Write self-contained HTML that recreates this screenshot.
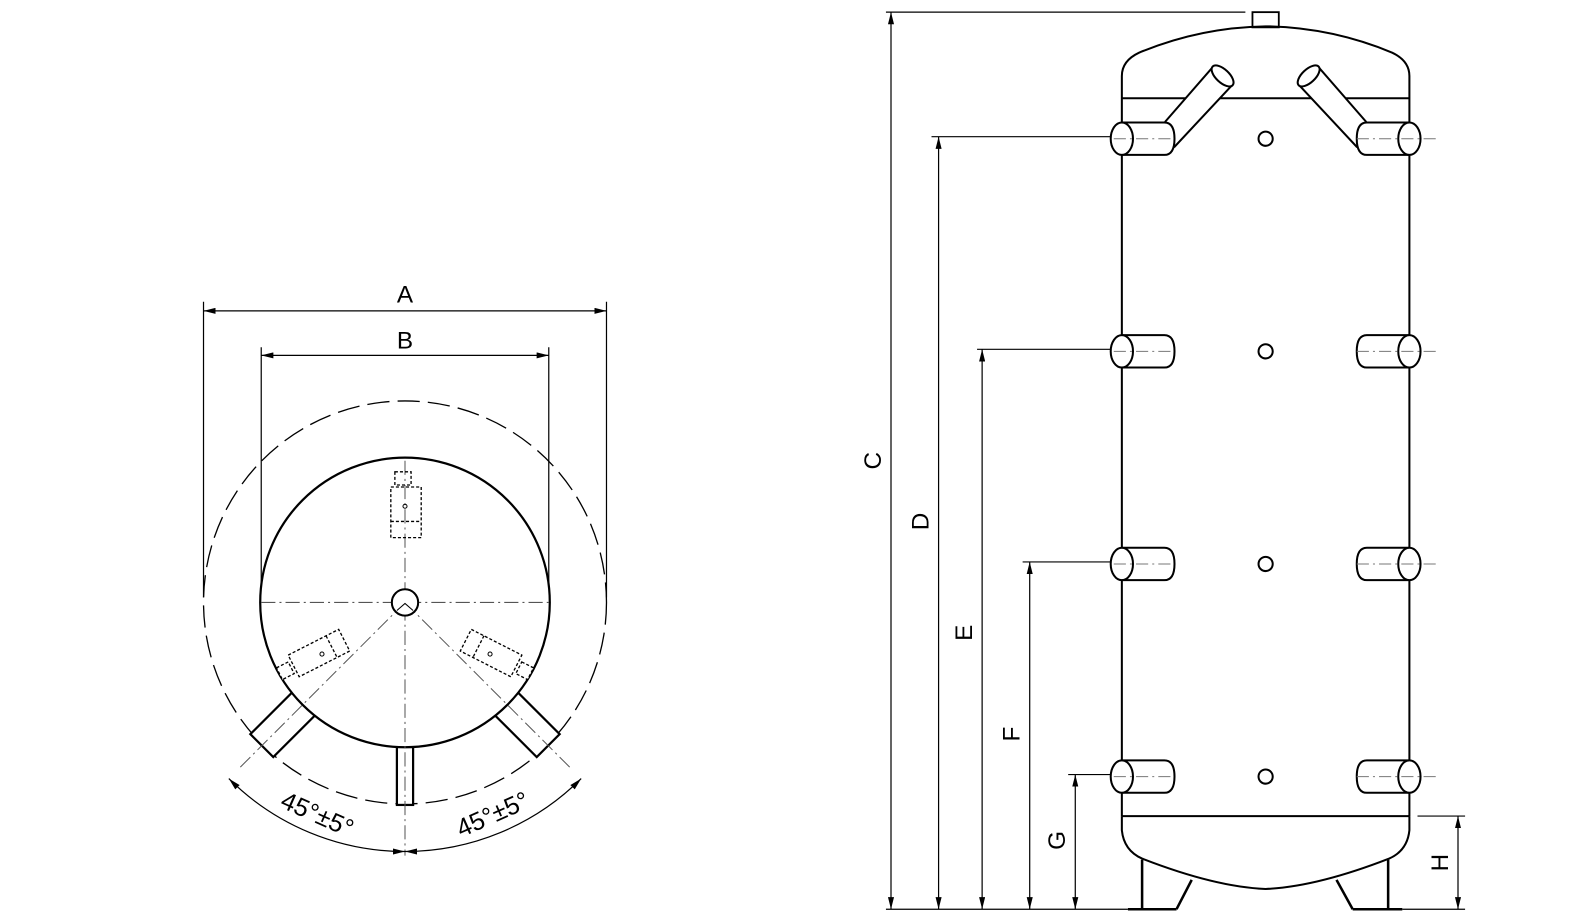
<!DOCTYPE html>
<html><head><meta charset="utf-8"><style>html,body{margin:0;padding:0;background:#fff}svg{display:block}</style></head>
<body>
<svg width="1587" height="921" viewBox="0 0 1587 921" xmlns="http://www.w3.org/2000/svg" font-family="Liberation Sans, sans-serif">
<defs>
<marker id="ar" viewBox="0 0 12 6" refX="12" refY="3" markerWidth="12" markerHeight="6" markerUnits="userSpaceOnUse" orient="auto-start-reverse"><path d="M0,0 L12,3 L0,6 Z" fill="#000"/></marker>
</defs>
<g transform="scale(1.0125)">
<!-- LEFT VIEW -->
<g stroke="#000" fill="none">
<circle cx="400" cy="595" r="199" stroke-width="1.3" stroke-dasharray="22 8"/>
<line x1="201" y1="298" x2="201" y2="590" stroke-width="1.2"/>
<line x1="599" y1="298" x2="599" y2="590" stroke-width="1.2"/>
<line x1="258" y1="343" x2="258" y2="592" stroke-width="1.2"/>
<line x1="542" y1="343" x2="542" y2="592" stroke-width="1.2"/>
<line x1="201" y1="307" x2="599" y2="307" stroke-width="1.2" marker-start="url(#ar)" marker-end="url(#ar)"/>
<line x1="258" y1="351" x2="542" y2="351" stroke-width="1.2" marker-start="url(#ar)" marker-end="url(#ar)"/>
<g fill="#fff" stroke-width="2.2">
<rect x="-16" y="138" width="32" height="62" transform="translate(400 595) rotate(45)"/>
<rect x="-16" y="138" width="32" height="62" transform="translate(400 595) rotate(-45)"/>
<rect x="392" y="735" width="16" height="60"/>
</g>
<circle cx="400" cy="595" r="143" stroke-width="2.2" fill="#fff"/>
<g stroke="#555" stroke-width="1" stroke-dasharray="14 4 2 4">
<line x1="258" y1="595" x2="542" y2="595"/>
<line x1="400" y1="455" x2="400" y2="845"/>
<line x1="400" y1="595" x2="235" y2="760"/>
<line x1="400" y1="595" x2="565" y2="760"/>
</g>
<circle cx="400" cy="595" r="13" stroke-width="2" fill="#fff"/>
<polyline points="392,603 400,596 408,603" stroke-width="1"/>
<g stroke-width="1.3" stroke-dasharray="3 2">
<rect x="390" y="466" width="16" height="13"/>
<rect x="386" y="481" width="30" height="50"/>
<line x1="386" y1="515" x2="416" y2="515"/>
</g>
<g stroke-width="1.3" stroke-dasharray="3 2" fill="#fff">
<g transform="translate(315 645) rotate(-27)"><rect x="-28" y="-12" width="56" height="24"/><line x1="14" y1="-12" x2="14" y2="12"/><rect x="-44" y="-6" width="13" height="13"/></g>
<g transform="translate(485 645) rotate(27)"><rect x="-28" y="-12" width="56" height="24"/><line x1="-14" y1="-12" x2="-14" y2="12"/><rect x="31" y="-6" width="13" height="13"/></g>
</g>
<circle cx="400" cy="500" r="2" stroke-width="1"/>
<circle cx="318" cy="646" r="2" stroke-width="1"/>
<circle cx="484" cy="646" r="2" stroke-width="1"/>
<path d="M226,769 A246,246 0 0 0 400,841" stroke-width="1.2" marker-start="url(#ar)" marker-end="url(#ar)"/>
<path d="M574,769 A246,246 0 0 1 400,841" stroke-width="1.2" marker-start="url(#ar)" marker-end="url(#ar)"/>
</g>
<text transform="translate(310 812) rotate(24)" font-size="25" text-anchor="middle">45°±5°</text>
<text transform="translate(490 812) rotate(-24)" font-size="25" text-anchor="middle">45°±5°</text>
<text x="400" y="299" font-size="24" text-anchor="middle">A</text>
<text x="400" y="344" font-size="24" text-anchor="middle">B</text>

<!-- RIGHT VIEW -->
<g stroke="#000" fill="none" stroke-width="2">
<rect x="1237" y="12" width="26" height="15" stroke-width="1.8"/>
<path d="M1108,806 L1108,75 Q1108,60 1125,52 Q1185,27 1250,26 Q1315,27 1375,52 Q1392,60 1392,75 L1392,806"/>
<line x1="1108" y1="97" x2="1392" y2="97"/>
<line x1="1108" y1="806" x2="1392" y2="806"/>
<path d="M1108,806 L1108,820 Q1110,840 1128,848 Q1200,876 1250,878 Q1300,876 1372,848 Q1390,840 1392,820 L1392,806"/>
<path d="M1128,849 L1128,898 M1114,898 L1162,898 M1177,869 L1162,898" stroke-width="2.5"/>
<path d="M1371,849 L1371,898 M1336,898 L1385,898 M1320,869 L1336,898" stroke-width="2.5"/>
<!-- angled pipes -->
<polygon points="1151,120 1198,66 1217,84 1160,145 1140,145" fill="#fff"/>
<polygon points="1349,120 1302,66 1283,84 1340,145 1360,145" fill="#fff"/>
<ellipse cx="1207.5" cy="75" rx="13.5" ry="6.5" transform="rotate(43 1207.5 75)" fill="#fff"/>
<ellipse cx="1292.5" cy="75" rx="13.5" ry="6.5" transform="rotate(-43 1292.5 75)" fill="#fff"/>
</g>
<g stroke="#000" stroke-width="2" fill="#fff">
<g id="nz">
<path d="M1108,121 L1150,121 Q1160,121 1160,137 Q1160,153 1150,153 L1108,153 Z"/>
<ellipse cx="1108" cy="137" rx="11" ry="16"/>
</g>
<use href="#nz" y="210"/><use href="#nz" y="420"/><use href="#nz" y="630"/>
<g id="nzr">
<path d="M1392,121 L1350,121 Q1340,121 1340,137 Q1340,153 1350,153 L1392,153 Z"/>
<ellipse cx="1392" cy="137" rx="11" ry="16"/>
</g>
<use href="#nzr" y="210"/><use href="#nzr" y="420"/><use href="#nzr" y="630"/>
<circle cx="1250" cy="137" r="7"/><circle cx="1250" cy="347" r="7"/><circle cx="1250" cy="557" r="7"/><circle cx="1250" cy="767" r="7"/>
</g>
<g stroke="#777" stroke-width="1" stroke-dasharray="12 4 2 4">
<line x1="1100" y1="137" x2="1160" y2="137"/><line x1="1100" y1="347" x2="1160" y2="347"/><line x1="1100" y1="557" x2="1160" y2="557"/><line x1="1100" y1="767" x2="1160" y2="767"/>
<line x1="1340" y1="137" x2="1420" y2="137"/><line x1="1340" y1="347" x2="1420" y2="347"/><line x1="1340" y1="557" x2="1420" y2="557"/><line x1="1340" y1="767" x2="1420" y2="767"/>
</g>
<g stroke="#000" stroke-width="1.2" fill="none">
<line x1="875" y1="12" x2="1230" y2="12"/>
<line x1="875" y1="898" x2="1114" y2="898"/>
<line x1="1385" y1="898" x2="1447" y2="898"/>
<line x1="1400" y1="806" x2="1447" y2="806"/>
<line x1="920" y1="135" x2="1097" y2="135"/>
<line x1="965" y1="345" x2="1097" y2="345"/>
<line x1="1010" y1="555" x2="1097" y2="555"/>
<line x1="1055" y1="765" x2="1097" y2="765"/>
<line x1="880" y1="12" x2="880" y2="898" marker-start="url(#ar)" marker-end="url(#ar)"/>
<line x1="927" y1="135" x2="927" y2="898" marker-start="url(#ar)" marker-end="url(#ar)"/>
<line x1="970" y1="345" x2="970" y2="898" marker-start="url(#ar)" marker-end="url(#ar)"/>
<line x1="1017" y1="555" x2="1017" y2="898" marker-start="url(#ar)" marker-end="url(#ar)"/>
<line x1="1062" y1="765" x2="1062" y2="898" marker-start="url(#ar)" marker-end="url(#ar)"/>
<line x1="1440" y1="806" x2="1440" y2="898" marker-start="url(#ar)" marker-end="url(#ar)"/>
</g>
<g font-size="24" text-anchor="middle">
<text transform="translate(870 455) rotate(-90)">C</text>
<text transform="translate(917 515) rotate(-90)">D</text>
<text transform="translate(960 625) rotate(-90)">E</text>
<text transform="translate(1007 725) rotate(-90)">F</text>
<text transform="translate(1052 830) rotate(-90)">G</text>
<text transform="translate(1430 852) rotate(-90)">H</text>
</g>
</g>
</svg>
</body></html>
